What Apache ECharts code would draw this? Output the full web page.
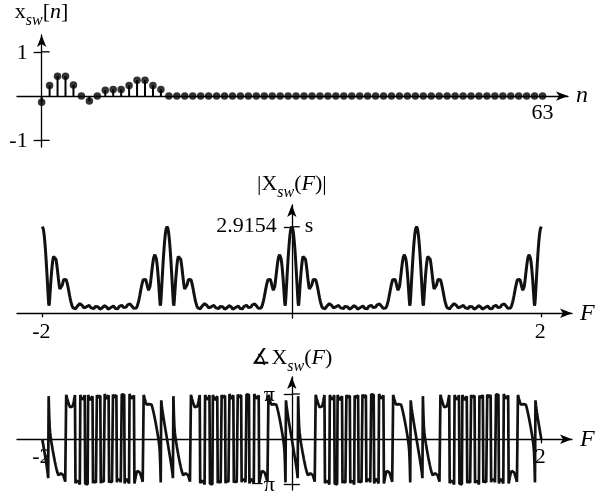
<!DOCTYPE html>
<html><head><meta charset="utf-8">
<script src="https://cdn.jsdelivr.net/npm/echarts@6/dist/echarts.min.js"></script>
<style>html,body{margin:0;padding:0;background:#fff}#c{width:599px;height:496px}</style>
</head><body><div id="c"></div>
<script>
// ---- data ----
const sampleIndex = [0,1,2,3,4,5,6,7,8,9,10,11,12,13,14,15,16,17,18,19,20,21,22,23,24,25,26,27,28,29,30,31,
  32,33,34,35,36,37,38,39,40,41,42,43,44,45,46,47,48,49,50,51,52,53,54,55,56,57,58,59,60,61,62,63];
const xswValues = [-0.14,0.24,0.45,0.45,0.25,0.00,-0.11,0.00,0.13,0.15,0.15,0.24,0.36,0.36,0.24,0.15,
  0,0,0,0,0,0,0,0,0,0,0,0,0,0,0,0, 0,0,0,0,0,0,0,0,0,0,0,0,0,0,0,0, 0,0,0,0,0,0,0,0,0,0,0,0,0,0,0,0];
const stemYTicks = [1, -1];
const stemYTickLabels = ['1', '-1'];
const stemXTicks = [63];
const stemXTickLabels = ['63'];
const freqTicks = [-2, 2];
const freqTickLabels = ['-2', '2'];
const magPeak = 2.9154;
const magPeakLabel = '2.9154';
const magPeakSideLabel = 's';
const phaseTicks = [Math.PI, -Math.PI];
const phaseTickLabels = ['π', '−π'];
const freqSpan = [-2, 2];

// ---- DTFT of the sampled sequence (magnitude and phase panels) ----
const STEPS = 256;
const magData = [], phaseData = [];
for (let k = freqSpan[0] * STEPS; k <= freqSpan[1] * STEPS; k++) {
  const f = k / STEPS;
  let re = 0, im = 0;
  for (let i = 0; i < xswValues.length; i++) {
    const w = -2 * Math.PI * f * sampleIndex[i];
    re += xswValues[i] * Math.cos(w);
    im += xswValues[i] * Math.sin(w);
  }
  magData.push([f, Math.hypot(re, im)]);
  phaseData.push([f, Math.atan2(im, re)]);
}

const FONT = 'Liberation Serif';
const TXT = { fontFamily: FONT, fontSize: 22, color: '#000' };
const LINE = { color: '#000', width: 1.3 };
const RICH = {
  a: { fontFamily: FONT, fontSize: 22, color: '#000', lineHeight: 28, verticalAlign: 'top' },
  i: { fontFamily: FONT, fontSize: 22, color: '#000', fontStyle: 'italic', lineHeight: 28, verticalAlign: 'top' },
  s: { fontFamily: FONT, fontSize: 16, color: '#000', fontStyle: 'italic', lineHeight: 16, verticalAlign: 'bottom' }
};

function xAxis(grid, min, max, name, tickVals) {
  return {
    gridIndex: grid, type: 'value', min: min, max: max,
    name: name, nameLocation: 'end', nameGap: 8, nameMoveOverlap: false,
    nameTextStyle: Object.assign({}, TXT, { fontStyle: 'italic', fontSize: 24 }),
    axisLine: { onZero: true, symbol: ['none', 'arrow'], symbolSize: [7, 12], lineStyle: LINE },
    axisTick: tickVals ? { show: true, customValues: tickVals, length: 4, lineStyle: LINE } : { show: false },
    axisLabel: { show: false },
    splitLine: { show: false }
  };
}
function yAxis(grid, min, max, name, nameGap, tickVals) {
  return {
    gridIndex: grid, type: 'value', min: min, max: max, position: 'left',
    name: name, nameLocation: 'end', nameGap: nameGap, nameMoveOverlap: false,
    nameTextStyle: Object.assign({}, TXT, { rich: RICH }),
    axisLine: { onZero: true, symbol: ['none', 'arrow'], symbolSize: [7, 12], lineStyle: LINE },
    axisTick: { show: true, customValues: tickVals, length: 8, lineStyle: LINE },
    axisLabel: { show: false },
    splitLine: { show: false }
  };
}

const chart = echarts.init(document.getElementById('c'), null, { renderer: 'canvas' });
chart.setOption({
  animation: false,
  backgroundColor: '#fff',
  grid: [
    { left: 17, right: 31, top: 35, bottom: 349, containLabel: false, outerBoundsMode: 'none' },
    { left: 17, right: 27, top: 205, bottom: 178, containLabel: false, outerBoundsMode: 'none' },
    { left: 17, right: 27, top: 377, bottom: 6, containLabel: false, outerBoundsMode: 'none' }
  ],
  xAxis: [
    xAxis(0, -3.1, 66.2, 'n', null),
    xAxis(1, -2.203, 2.246, 'F', freqTicks),
    xAxis(2, -2.203, 2.246, 'F', freqTicks)
  ],
  yAxis: [
    yAxis(0, -1.15, 1.38, '{a|x}{s|sw}{a|[}{i|n}{a|]}', 6, stemYTicks),
    yAxis(1, -0.16, 3.65, '{a||X}{s|sw}{a|(}{i|F}{a|)|}', 4, [magPeak]),
    yAxis(2, -3.52, 4.32, '{a|∡X}{s|sw}{a|(}{i|F}{a|)}', 2, phaseTicks)
  ],
  series: [
    { type: 'bar', xAxisIndex: 0, yAxisIndex: 0, barWidth: 2, itemStyle: { color: '#000' },
      data: sampleIndex.map((n, i) => [n, xswValues[i]]) },
    { type: 'scatter', xAxisIndex: 0, yAxisIndex: 0, symbolSize: 7.5, itemStyle: { color: '#000' },
      data: sampleIndex.map((n, i) => [n, xswValues[i]]) },
    { type: 'line', xAxisIndex: 1, yAxisIndex: 1, showSymbol: false, data: magData,
      lineStyle: { color: '#111', width: 3 } },
    { type: 'line', xAxisIndex: 2, yAxisIndex: 2, showSymbol: false, data: phaseData,
      lineStyle: { color: '#111', width: 2.7 } }
  ]
});

// ---- tick labels and inner tick halves, anchored to axis values through the chart's scales ----
function px(g, xv, yv) {
  return chart.convertToPixel({ xAxisIndex: g, yAxisIndex: g }, [xv, yv]);
}
function label(pt, dx, dy, text, align) {
  return {
    type: 'text', x: pt[0] + dx, y: pt[1] + dy, silent: true,
    style: { text: text, fill: '#000', font: '22px "Liberation Serif"',
      align: align, textAlign: align, verticalAlign: 'middle', textVerticalAlign: 'middle' }
  };
}
function innerTick(pt) {
  return {
    type: 'line', silent: true,
    shape: { x1: pt[0], y1: pt[1], x2: pt[0] + 8, y2: pt[1] },
    style: { stroke: '#000', lineWidth: 1.3 }
  };
}
const els = [];
stemYTicks.forEach((v, i) => {
  els.push(label(px(0, 0, v), -14, 1, stemYTickLabels[i], 'right'));
  els.push(innerTick(px(0, 0, v)));
});
stemXTicks.forEach((v, i) => els.push(label(px(0, v, 0), 0, 17, stemXTickLabels[i], 'center')));
freqTicks.forEach((v, i) => els.push(label(px(1, v, 0), -1, 19, freqTickLabels[i], 'center')));
els.push(label(px(1, 0, magPeak), -15, -1, magPeakLabel, 'right'));
els.push(label(px(1, 0, magPeak), 13, -1, magPeakSideLabel, 'left'));
els.push(innerTick(px(1, 0, magPeak)));
freqTicks.forEach((v, i) => els.push(label(px(2, v, 0), -1, 18, freqTickLabels[i], 'center')));
phaseTicks.forEach((v, i) => {
  els.push(label(px(2, 0, v), -17, 1, phaseTickLabels[i], 'right'));
  els.push(innerTick(px(2, 0, v)));
});
chart.setOption({ graphic: { elements: els } });
</script></body></html>
